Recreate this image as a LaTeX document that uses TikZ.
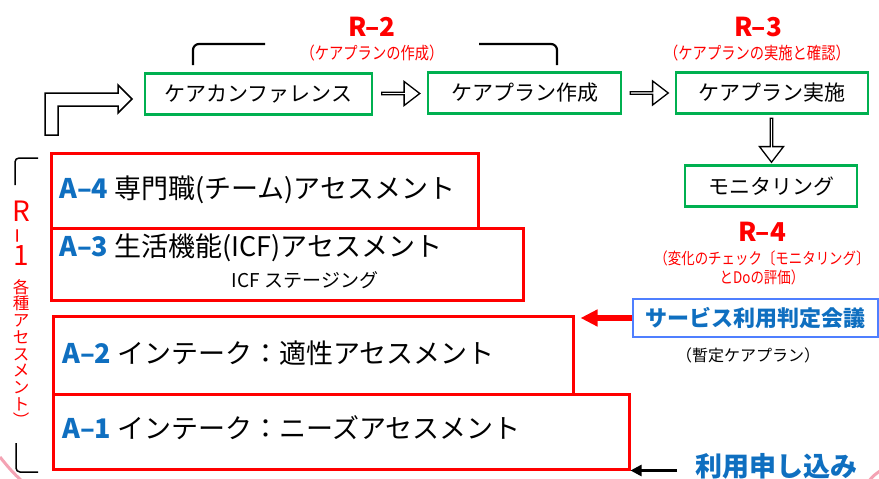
\documentclass[tikz,border=0pt]{standalone}
\usepackage{fontspec}
\setmainfont{Noto Sans CJK JP}
\usepackage{tikz}
\usetikzlibrary{shapes.arrows}
\usetikzlibrary{arrows.meta}
\usetikzlibrary{calc}
\usepackage{graphicx}
\definecolor{vertBoite}{HTML}{00B050}
\definecolor{rougeTexte}{HTML}{FF0000}
\definecolor{bleuTexte}{HTML}{0F6FC0}
\definecolor{bleuBord}{HTML}{4F7FFF}
\definecolor{roseCoin}{HTML}{F4A3B4}
\newcommand*{\corps}[1]{\fontsize{#1}{#1}\selectfont}
\newcommand*{\epais}{2.5pt}
\newcommand*{\Ablue}[1]{\textcolor{bleuTexte}{\bfseries A--#1}}
\newcommand*{\etroit}[1]{\scalebox{0.84}[1]{#1}}
\tikzset{
	vert/.style={draw=vertBoite,line width=\epais,inner sep=0pt,minimum height=41pt,font=\corps{21}},
	rouge/.style={draw=rougeTexte,line width=\epais,inner sep=0pt,anchor=north west},
	texteA/.style={anchor=west,inner sep=0pt,font=\corps{27}},
	creux/.style={single arrow,draw=black,fill=white,line width=1.3pt,inner sep=0pt,
		minimum width=24pt,minimum height=38pt,single arrow head extend=6pt,single arrow tip angle=75},
	titreR/.style={text=rougeTexte,font=\bfseries\corps{26}},
	notaR/.style={text=rougeTexte,font=\corps{17}},
	crochet/.style={line width=1.5pt,rounded corners=4pt}
}

\begin{document}
\begin{tikzpicture}[x=1pt,y=-1pt]
	\useasboundingbox (0,0) rectangle (879,479);
	% ligne du haut
	\node[vert,minimum width=227pt] (conf) at (258.5,94) {ケアカンファレンス};
	\node[vert,minimum width=193pt] (plan) at (524.5,93) {ケアプラン作成};
	\node[vert,minimum width=192pt] (jissi) at (772,93) {ケアプラン実施};
	\node[vert,minimum width=172pt] (monit) at (771,186) {モニタリング};
	\node[creux] (f1) at ($(conf.east)!.5!(plan.west)$) {};
	\node[creux] (f2) at ($(plan.east)!.5!(jissi.west)$) {};
	\node[creux,rotate=-90,minimum height=44pt] (f3) at ($(jissi.south)!.5!(monit.north)$) {};
	\draw[line width=1.5pt,fill=white] (45,135) -- (45,93) -- (118,93) -- (118,85) -- (132,99)
		-- (118,113) -- (118,106) -- (58,106) -- (58,135) -- cycle;
	\draw[line width=2.2pt,rounded corners=6pt] (193,65) -- (193,44) -- (265,44);
	\draw[line width=2.2pt,rounded corners=6pt] (479,44) -- (557,44) -- (557,65);
	% titres R
	\node[titreR] (r2) at (372,27) {R--2};
	\node[notaR] (n2) at (372,53) {\etroit{（ケアプランの作成）}};
	\node[titreR] (r3) at (758,27) {R--3};
	\node[notaR] (n3) at (757,53) {\etroit{（ケアプランの実施と確認）}};
	\node[titreR] (r4) at (762,232) {R--4};
	\node[notaR,align=center,font=\fontsize{16}{19}\selectfont] (n4) at (762,267.5)
		{\etroit{（変化のチェック〔モニタリング〕}\\\etroit{とDoの評価）}};
	% assessments
	\node[rouge,minimum width=427pt,minimum height=75pt] (a4) at (50,152) {};
	\node[rouge,minimum width=472pt,minimum height=72pt] (a3) at (50,227) {};
	\node[rouge,minimum width=520pt,minimum height=78pt] (a2) at (52,315) {};
	\node[rouge,minimum width=576pt,minimum height=75pt] (a1) at (52,393) {};
	\node[texteA] (t4) at (59,190) {\Ablue{4} 専門職(チーム)アセスメント};
	\node[texteA] (t3) at (59,248) {\Ablue{3} 生活機能(ICF)アセスメント};
	\node[font=\corps{19}] (icf) at (305,280) {ICF ステージング};
	\node[texteA] (t2) at (62,353) {\Ablue{2} インテーク：適性アセスメント};
	\node[texteA] (t1) at (62,428) {\Ablue{1} インテーク：ニーズアセスメント};
	% R-1
	\draw[crochet] (15,185) -- (15,158) -- (38,158);
	\draw[crochet] (16,443) -- (16,472) -- (38,472);
	\node[text=rougeTexte,align=center,inner sep=0pt,font=\fontsize{28}{22}\selectfont] (r1) at (21,233)
		{R\\\rotatebox{90}{--}\\1};
	\node[text=rougeTexte,align=center,inner sep=0pt,font=\fontsize{16.5}{16.7}\selectfont] (n1) at (21,353)
		{各\\種\\ア\\セ\\ス\\メ\\ン\\ト\\︶};
	% droite
	\node[draw=bleuBord,line width=2pt,minimum width=245pt,minimum height=38pt,inner sep=0pt,
		text=bleuTexte,font=\bfseries\corps{22}] (gikai) at (755.5,318) {サービス利用判定会議};
	\node[font=\corps{16}] (zantei) at (748,355) {（暫定ケアプラン）};
	\node[text=bleuTexte,font=\bfseries\corps{27},inner sep=0pt,anchor=west] (moushi) at (695,466) {利用申し込み};
	\draw[rougeTexte,line width=6pt,shorten >=6pt,-{Triangle[length=17pt,width=16pt]}]
		(gikai.west) -- (a2.east |- gikai.west);
	\draw[line width=2.5pt,shorten <=18pt,-{Triangle[length=11pt,width=11pt]}]
		(moushi.west |- a1.south east) -- (a1.south east);
	% coins
	\draw[roseCoin,line width=3pt] (0,457) .. controls (8,467) and (14,474) .. (22,481);
	\draw[roseCoin,line width=3pt] (869,481) .. controls (873,476) .. (880,471);
\end{tikzpicture}
\end{document}
